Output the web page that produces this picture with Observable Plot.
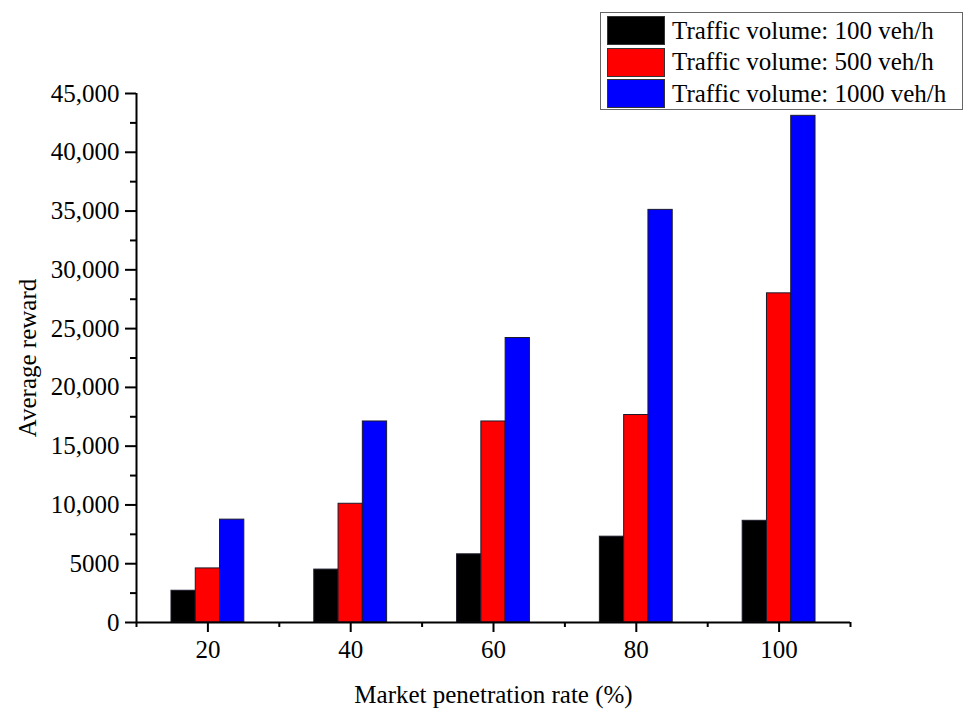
<!DOCTYPE html>
<html>
<head>
<meta charset="utf-8">
<script src="https://cdn.jsdelivr.net/npm/d3@7"></script>
<script src="https://cdn.jsdelivr.net/npm/@observablehq/plot@0.6"></script>
<style>
  html, body { margin: 0; padding: 0; background: #fff; }
  #wrap { position: relative; width: 968px; height: 711px; font-family: 'Liberation Serif', 'Times New Roman', serif; }
  #legend { position: absolute; left: 600px; top: 12px; width: 363px; height: 98px; border: 1px solid #666; background: #fff; box-sizing: border-box; padding: 2px 0 0 6px; }
  .row { display: flex; align-items: center; height: 31.5px; }
  .sw { width: 58px; height: 29px; box-sizing: border-box; border: 1px solid #333; margin-right: 7px; }
  .lbl { font-size: 25px; color: #000; white-space: nowrap; }
</style>
</head>
<body>
<div id="wrap"><div id="chart"></div><div id="legend"></div></div>
<script>
const rates = [20, 40, 60, 80, 100];
const v100 = [2700, 4500, 5800, 7300, 8650];
const v500 = [4600, 10100, 17100, 17650, 28000];
const v1000 = [8750, 17100, 24200, 35100, 43100];
const seriesNames = ["Traffic volume: 100 veh/h", "Traffic volume: 500 veh/h", "Traffic volume: 1000 veh/h"];
const seriesColors = ["#000000", "#ff0000", "#0000ff"];
const yMajorTicks = [0, 5000, 10000, 15000, 20000, 25000, 30000, 35000, 40000, 45000];
const yTickLabels = ["0", "5000", "10,000", "15,000", "20,000", "25,000", "30,000", "35,000", "40,000", "45,000"];
const yMinorTicks = [2500, 7500, 12500, 17500, 22500, 27500, 32500, 37500, 42500];
const xMajorTicks = [20, 40, 60, 80, 100];
const xMinorTicks = [10, 30, 50, 70, 90, 110];
const xLabel = "Market penetration rate (%)";
const yLabel = "Average reward";

const seriesValues = [v100, v500, v1000];
const barW = 3.4;
const data = [];
rates.forEach((r, j) => seriesValues.forEach((vals, i) => {
  data.push({rate: r, i, series: seriesNames[i], value: vals[j]});
}));

const chart = Plot.plot({
  width: 968,
  height: 711,
  marginLeft: 136,
  marginRight: 118,
  marginTop: 93,
  marginBottom: 89,
  style: {fontFamily: "'Liberation Serif', 'Times New Roman', serif", fontSize: "25px", color: "#000", background: "#fff"},
  x: {domain: [10, 110]},
  y: {domain: [0, 45000]},
  color: {domain: seriesNames, range: seriesColors},
  marks: [
    Plot.rectY(data, {
      x1: d => d.rate + (d.i - 1.5) * barW,
      x2: d => d.rate + (d.i - 0.5) * barW,
      y1: 0, y2: "value",
      fill: "series", stroke: "#1a1a2a", strokeWidth: 1
    }),
    Plot.axisY({ticks: yMinorTicks, tickSize: 6, tickFormat: () => "", strokeWidth: 2, label: null}),
    Plot.axisY({ticks: yMajorTicks, tickSize: 11, tickPadding: 6, strokeWidth: 2,
      tickFormat: d => yTickLabels[yMajorTicks.indexOf(d)],
      label: yLabel, labelAnchor: "center", labelArrow: "none", labelOffset: 118}),
    Plot.axisX({ticks: xMinorTicks, tickSize: 5, tickFormat: () => "", strokeWidth: 2, label: null}),
    Plot.axisX({ticks: xMajorTicks, tickSize: 10, tickPadding: 8, strokeWidth: 2,
      label: xLabel, labelAnchor: "center", labelArrow: "none", labelOffset: 80}),
    Plot.ruleX([10], {strokeWidth: 2}),
    Plot.ruleY([0], {strokeWidth: 2})
  ]
});
document.getElementById("chart").appendChild(chart);

const legend = d3.select("#legend");
seriesNames.forEach((name, i) => {
  const row = legend.append("div").attr("class", "row");
  row.append("div").attr("class", "sw").style("background", seriesColors[i]);
  row.append("div").attr("class", "lbl").text(name);
});
</script>
</body>
</html>
